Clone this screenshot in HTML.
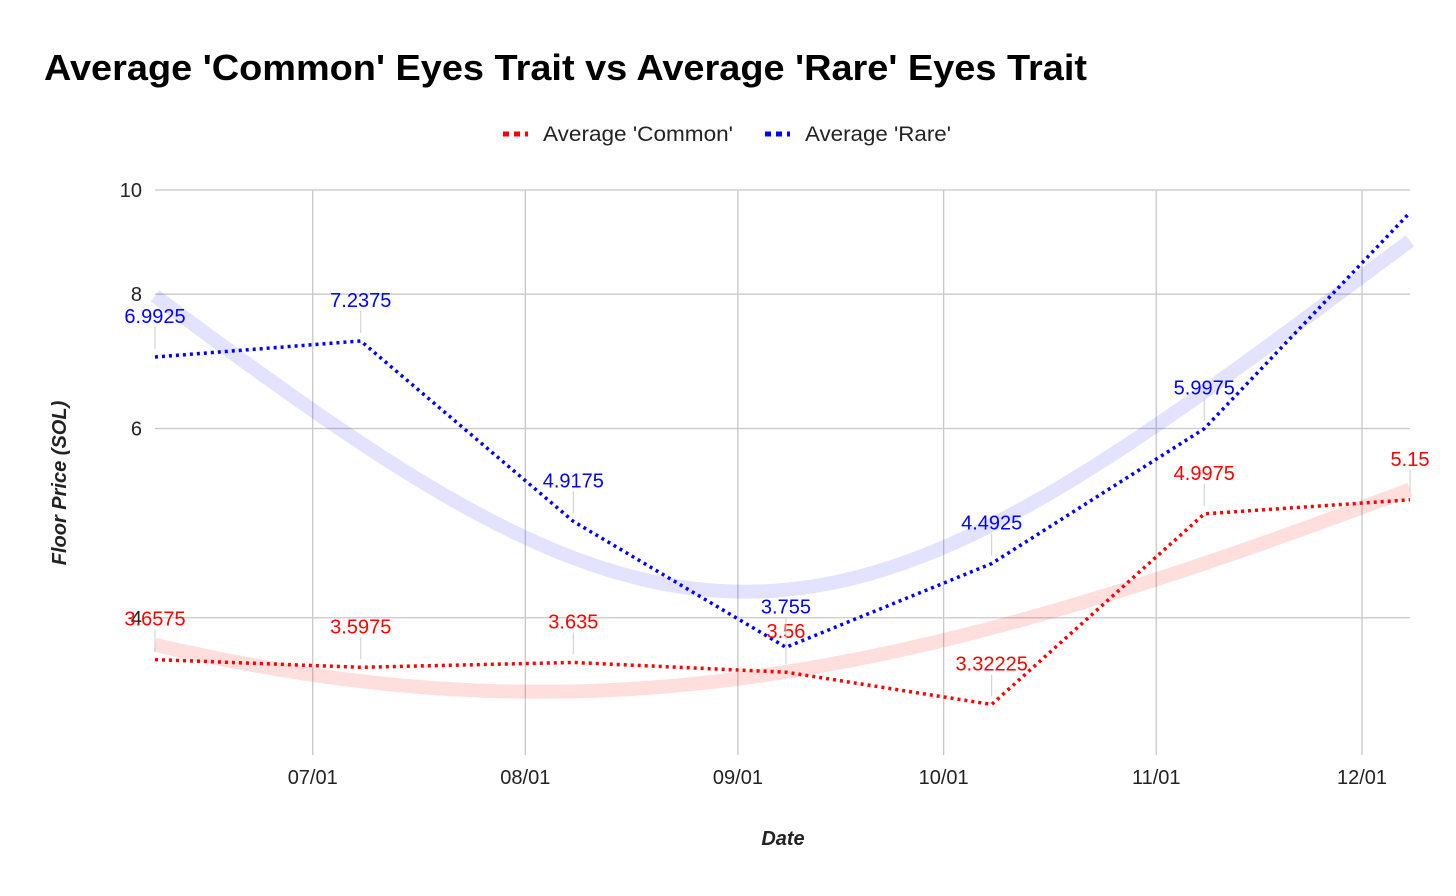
<!DOCTYPE html>
<html><head><meta charset="utf-8"><style>
body{margin:0;background:#fff;font-family:"Liberation Sans",Arial,sans-serif}
svg{display:block}
</style></head><body>
<svg id="chart" width="1456" height="896" xmlns="http://www.w3.org/2000/svg">
<text x="44" y="80" font-size="36" font-weight="bold" fill="#000" textLength="1043" lengthAdjust="spacingAndGlyphs">Average 'Common' Eyes Trait vs Average 'Rare' Eyes Trait</text>
<g>
<g><line x1="503" y1="134" x2="528" y2="134" stroke="#f00" stroke-width="5" stroke-dasharray="6,5"/><text x="543" y="141" font-size="21" fill="#222" textLength="190" lengthAdjust="spacingAndGlyphs">Average 'Common'</text></g>
<g><line x1="765" y1="134" x2="790" y2="134" stroke="#00f" stroke-width="5" stroke-dasharray="6,5"/><text x="805" y="141" font-size="21" fill="#222" textLength="146" lengthAdjust="spacingAndGlyphs">Average 'Rare'</text></g>
</g>
<g id="grid"></g><g id="trend"></g><g id="series"></g><g id="labels"></g>
<text x="783" y="845" font-size="20" font-weight="bold" font-style="italic" text-anchor="middle" fill="#222">Date</text>
<text transform="translate(66,483) rotate(-90)" font-size="20" font-weight="bold" font-style="italic" text-anchor="middle" fill="#222">Floor Price (SOL)</text>
</svg>
<script>
const days=[0,30,61,92,122,153,183];
const commonVals=[3.6575,3.5975,3.635,3.56,3.32225,4.9975,5.15];
const rareVals=[6.9925,7.2375,4.9175,3.755,4.4925,5.9975,9.53];
const commonLabels=["3.6575","3.5975","3.635","3.56","3.32225","4.9975","5.15"];
const rareLabels=["6.9925","7.2375","4.9175","3.755","4.4925","5.9975",""];
const yTicks=[4,6,8,10];
const xTickDays=[23,54,85,115,146,176];
const xTickLabels=["07/01","08/01","09/01","10/01","11/01","12/01"];
const NS="http://www.w3.org/2000/svg";
const X0=155,X1=1410,D0=0,D1=183,YTOP=190,PPD=1075,YBOT=755;
const x=d=>X0+(d-D0)/(D1-D0)*(X1-X0);
const y=v=>YTOP+PPD*(1-Math.log10(v));
function mk(t,a,p){const e=document.createElementNS(NS,t);for(const k in a)e.setAttribute(k,a[k]);p.appendChild(e);return e;}
const grid=document.getElementById('grid');
yTicks.forEach(v=>{
 const l=mk('line',{x1:X0,x2:X1,y1:y(v),y2:y(v),stroke:'#c8c8c8','stroke-width':1.3},grid);
 
 
 const t=mk('text',{x:142,y:y(v)+7,'font-size':20,'text-anchor':'end',fill:'#222'},grid);t.textContent=v;
 
 
});
xTickDays.forEach((d,i)=>{
 const l=mk('line',{x1:x(d),x2:x(d),y1:YTOP,y2:YBOT,stroke:'#c8c8c8','stroke-width':1.3},grid);
 
 
 const t=mk('text',{x:x(d),y:784,'font-size':20,'text-anchor':'middle',fill:'#222'},grid);t.textContent=xTickLabels[i];
 
 
});
function quadFit(xs,ys){let S=[0,0,0,0,0],T=[0,0,0];xs.forEach((a,i)=>{for(let k=0;k<5;k++)S[k]+=a**k;for(let k=0;k<3;k++)T[k]+=ys[i]*a**k;});
 const M=[[S[0],S[1],S[2],T[0]],[S[1],S[2],S[3],T[1]],[S[2],S[3],S[4],T[2]]];
 for(let i=0;i<3;i++){for(let j=i+1;j<3;j++){const f=M[j][i]/M[i][i];for(let k=i;k<4;k++)M[j][k]-=f*M[i][k];}}
 const c=[0,0,0];for(let i=2;i>=0;i--){let s=M[i][3];for(let k=i+1;k<3;k++)s-=M[i][k]*c[k];c[i]=s/M[i][i];}return c;}
const trend=document.getElementById('trend'),series=document.getElementById('series'),labels=document.getElementById('labels');
[[commonVals,commonLabels,'#f00','rgba(255,0,0,0.13)','common'],[rareVals,rareLabels,'#00f','rgba(0,0,255,0.11)','rare']].forEach(([vals,labs,col,tc,nm])=>{
 const c=quadFit(days,vals);let p='';
 for(let d=D0;d<=D1;d+=1){const v=c[0]+c[1]*d+c[2]*d*d;p+=(p?'L':'M')+x(d)+','+y(v);}
 const tl=mk('path',{d:p,fill:'none',stroke:tc,'stroke-width':14},trend);
 
 
 const line=mk('path',{d:days.map((d,i)=>(i?'L':'M')+x(d)+','+y(vals[i])).join(''),fill:'none',stroke:col,'stroke-width':3.5,'stroke-dasharray':'3,4'},series);
 
 
 days.forEach((d,i)=>{if(!labs[i])return;
  const py=y(vals[i]);
  const ll=mk('line',{x1:x(d),x2:x(d),y1:py-8,y2:py-30,stroke:'#ccc','stroke-width':1},labels);
  
  
  const t=mk('text',{x:x(d),y:py-34,'font-size':20,'text-anchor':'middle',fill:col},labels);t.textContent=labs[i];
  
  
 });
});
</script>
</body></html>
